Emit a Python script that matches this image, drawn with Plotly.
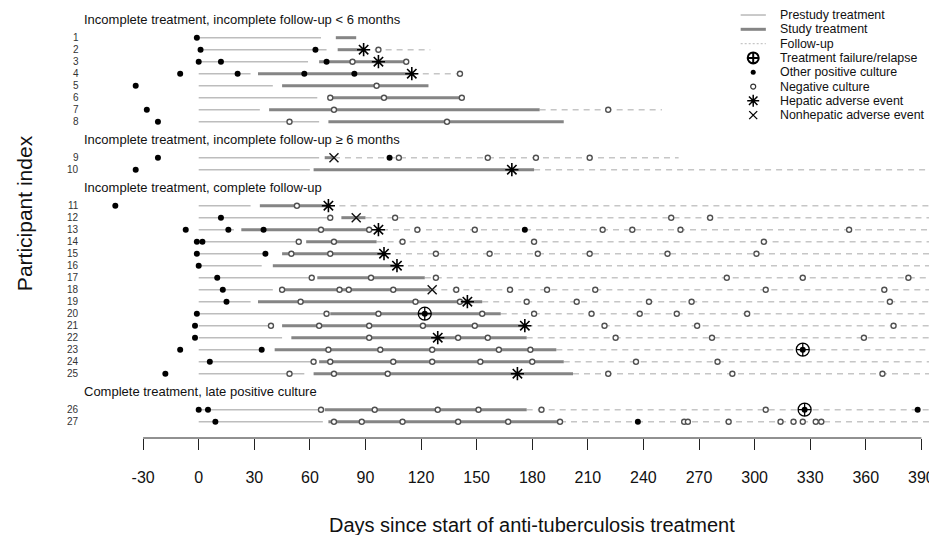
import plotly.graph_objects as go

# ---------------- data ----------------
group_titles = [
    "Incomplete treatment, incomplete follow-up &lt; 6 months",
    "Incomplete treatment, incomplete follow-up ≥ 6 months",
    "Incomplete treatment, complete follow-up",
    "Complete treatment, late positive culture",
]
group_sizes = [8, 2, 15, 2]
participants = list(range(1, 28))

pre_start = [0] * 27
pre_end = [66, 69, 59, 28, 40, 64, 33, 65, 65, 60, 28, 71, 19, 54, 36, 34, 61, 40,
           28, 69, 39, 45, 35, 62, 57, 65, 67]
study_start = [74, 75, 65, 32, 45, 70, 38, 70, 68, 62, 33, 77, 23, 58, 45, 40, 64, 45,
               32, 71, 45, 50, 41, 65, 62, 68, 70]
study_end = [85, 89, 112, 115, 124, 142, 184, 197, 73, 181, 70, 90, 93, 96, 100, 107,
             122, 125, 153, 163, 177, 177, 193, 197, 202, 177, 195]
followup_end = [None, 125, None, 141, None, None, 250, None, 259] + [397] * 18

positive_culture = [[-1], [1, 63], [0, 12, 69], [-10, 21, 57, 84], [-34], [], [-28], [-22],
                    [-22, 103], [-34], [-45], [12], [-7, 16, 35, 176], [-1, 2], [-1, 36],
                    [0], [10], [13], [15], [-1], [-2], [-2], [-10, 34], [6], [-18],
                    [0, 5, 388], [9, 237]]
negative_culture = [[], [97], [83, 112], [141], [96], [71, 100, 142], [73, 221], [49, 134],
                    [108, 156, 182, 211], [], [53], [71, 106, 255, 276],
                    [66, 92, 118, 149, 218, 234, 260, 351], [54, 73, 110, 181, 305],
                    [50, 71, 128, 157, 183, 211, 253, 301], [],
                    [61, 93, 128, 285, 326, 383],
                    [45, 76, 81, 105, 139, 168, 188, 214, 306, 370],
                    [55, 117, 141, 177, 204, 243, 266, 373],
                    [69, 97, 153, 181, 212, 238, 258, 296],
                    [39, 65, 92, 121, 149, 219, 269, 375],
                    [92, 140, 156, 225, 277, 359], [70, 98, 126, 162, 179],
                    [62, 71, 105, 126, 152, 180, 236, 280], [49, 73, 102, 221, 288, 369],
                    [66, 95, 129, 151, 185, 306],
                    [73, 88, 110, 140, 167, 195, 262, 264, 286, 314, 321, 326, 333, 336]]
hepatic_ae = [[], [89], [97], [115], [], [], [], [], [], [169], [70], [], [97], [], [100],
              [107], [], [], [145], [], [176], [129], [], [], [172], [], []]
nonhepatic_ae = [[], [], [], [], [], [], [], [], [73], [], [], [85], [], [], [], [], [],
                 [126], [], [], [], [], [], [], [], [], []]
failure = [[], [], [], [], [], [], [], [], [], [], [], [], [], [], [], [], [], [], [],
           [122], [], [], [326], [], [], [327], []]

tick_values = list(range(-30, 391, 30))
tick_labels = [str(v) for v in tick_values]

legend_labels = ["Prestudy treatment", "Study treatment", "Follow-up",
                 "Treatment failure/relapse", "Other positive culture",
                 "Negative culture", "Hepatic adverse event", "Nonhepatic adverse event"]

# ---------------- styles ----------------
FONT = "Liberation Sans, Arial, sans-serif"
PRE_COLOR = "#bdbdbd"
STUDY_COLOR = "#858585"
FU_COLOR = "#c6c6c6"
NEG_EDGE = "#505050"

# row positions (with gaps between groups)
row_pos = []
title_pos = []
start = 1
for n in group_sizes:
    title_pos.append(start - 1.5)
    row_pos.extend(range(start, start + n))
    start += n + 2

fig = go.Figure()


def seg_trace(starts, ends, color, width, dash=None):
    xs, ys = [], []
    for s, e, p in zip(starts, ends, row_pos):
        if s is None or e is None:
            continue
        xs += [s, e, None]
        ys += [p, p, None]
    fig.add_trace(go.Scatter(x=xs, y=ys, mode="lines", hoverinfo="skip",
                             line=dict(color=color, width=width, dash=dash),
                             showlegend=False))


seg_trace(pre_start, pre_end, PRE_COLOR, 1.6)
seg_trace(study_end, followup_end, FU_COLOR, 1.5, dash="6px,5px")
seg_trace(study_start, study_end, STUDY_COLOR, 3)


def flat(lists):
    xs, ys = [], []
    for vals, p in zip(lists, row_pos):
        for v in vals:
            xs.append(v)
            ys.append(p)
    return xs, ys


x, y = flat(positive_culture)
fig.add_trace(go.Scatter(x=x, y=y, mode="markers", showlegend=False,
                         marker=dict(symbol="circle", size=6, color="black",
                                     line=dict(width=0))))
x, y = flat(negative_culture)
fig.add_trace(go.Scatter(x=x, y=y, mode="markers", showlegend=False,
                         marker=dict(symbol="circle", size=5, color="white",
                                     line=dict(width=1.4, color=NEG_EDGE))))
x, y = flat(hepatic_ae)
fig.add_trace(go.Scatter(x=x, y=y, mode="markers", showlegend=False,
                         marker=dict(symbol="asterisk-open", size=11, color="black",
                                     line=dict(width=1.6, color="black"))))
x, y = flat(nonhepatic_ae)
fig.add_trace(go.Scatter(x=x, y=y, mode="markers", showlegend=False,
                         marker=dict(symbol="x-thin-open", size=9, color="#111",
                                     line=dict(width=1.4, color="#111"))))
x, y = flat(failure)
fig.add_trace(go.Scatter(x=x, y=y, mode="markers", showlegend=False,
                         marker=dict(symbol="circle-cross-open", size=13, color="black",
                                     line=dict(width=1.3, color="black"))))
fig.add_trace(go.Scatter(x=x, y=y, mode="markers", showlegend=False,
                         marker=dict(symbol="circle", size=6, color="black")))

# ---------------- custom legend on its own axes ----------------
leg_idx = list(range(len(legend_labels)))
line_styles = [(PRE_COLOR, 1.6, None), (STUDY_COLOR, 3, None), (FU_COLOR, 1.3, "2px,2px")]
for i, (c, w, d) in enumerate(line_styles):
    fig.add_trace(go.Scatter(x=[5.7, 31], y=[leg_idx[i]] * 2, mode="lines",
                             xaxis="x2", yaxis="y2", showlegend=False, hoverinfo="skip",
                             line=dict(color=c, width=w, dash=d)))
marker_styles = [
    dict(symbol="circle-cross-open", size=11, color="black", line=dict(width=2, color="black")),
    dict(symbol="circle", size=5, color="black"),
    dict(symbol="circle", size=5, color="white", line=dict(width=1.2, color="#333")),
    dict(symbol="asterisk-open", size=10, color="black", line=dict(width=1.5, color="black")),
    dict(symbol="x-thin-open", size=8, color="black", line=dict(width=1.3, color="black")),
]
for j, ms in enumerate(marker_styles):
    fig.add_trace(go.Scatter(x=[18.3], y=[leg_idx[3 + j]], mode="markers",
                             xaxis="x2", yaxis="y2", showlegend=False, hoverinfo="skip",
                             marker=ms))

annotations = []
for i, lab in zip(leg_idx, legend_labels):
    annotations.append(dict(x=43.3, y=i, xref="x2", yref="y2", text=lab,
                            showarrow=False, xanchor="left", yanchor="middle",
                            font=dict(family=FONT, size=12.4, color="#111")))
for t, p in zip(group_titles, title_pos):
    annotations.append(dict(x=0.002, y=p, xref="paper", yref="y", text=t,
                            showarrow=False, xanchor="left", yanchor="middle",
                            font=dict(family=FONT, size=13, color="#111")))
for pid, p in zip(participants, row_pos):
    annotations.append(dict(x=0.001, y=p, xref="paper", yref="y", text=str(pid),
                            showarrow=False, xanchor="right", yanchor="middle",
                            font=dict(family=FONT, size=10, color="#333")))
annotations.append(dict(x=180, y=-0.2023, xref="x", yref="paper",
                        text="Days since start of anti-tuberculosis treatment",
                        showarrow=False, xanchor="center", yanchor="middle",
                        font=dict(family=FONT, size=20, color="#111")))
annotations.append(dict(x=-0.0654, y=0.523, xref="paper", yref="paper",
                        text="Participant index", textangle=-90,
                        showarrow=False, xanchor="center", yanchor="middle",
                        font=dict(family=FONT, size=21, color="#111")))

fig.update_layout(
    width=929, height=527,
    margin=dict(l=72, r=1, t=0, b=97, pad=0),
    paper_bgcolor="white", plot_bgcolor="white",
    showlegend=False,
    xaxis=dict(range=[-64.06, 397.9], tickvals=tick_values, ticktext=tick_labels,
               ticks="outside", ticklen=11, tickwidth=1, tickcolor="#222",
               showgrid=False, zeroline=False, showline=False,
               ticklabelstandoff=14,
               tickfont=dict(family=FONT, size=16, color="#111")),
    yaxis=dict(range=[34.36, -1.475], visible=False, showgrid=False, zeroline=False),
    xaxis2=dict(domain=[655 / 856, 1], range=[0, 202], visible=False,
                anchor="y2"),
    yaxis2=dict(domain=[(430 - 114) / 430, 1.0], range=[7.48, -0.49],
                visible=False, anchor="x2"),
    shapes=[dict(type="line", xref="x", yref="paper", x0=-30, x1=390, y0=0, y1=0,
                 line=dict(color="#222", width=1))],
    annotations=annotations,
)

fig.write_html("out.html")
